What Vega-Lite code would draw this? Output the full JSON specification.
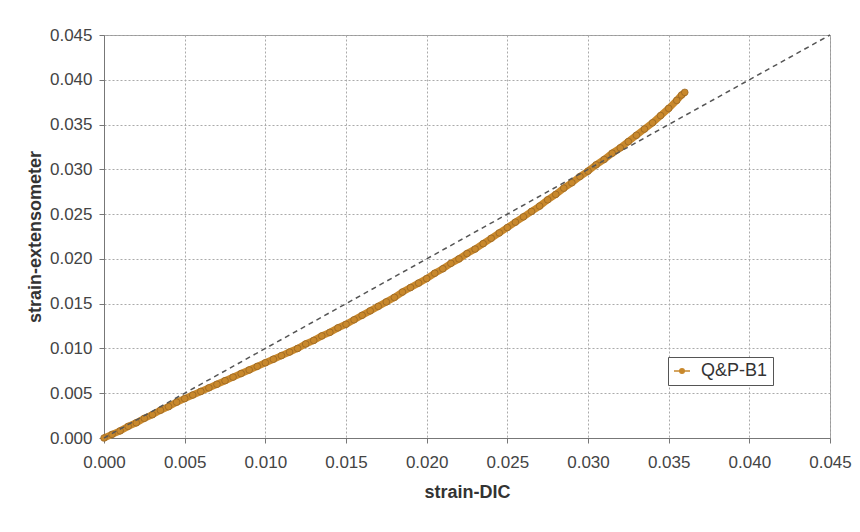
{
  "$schema": "https://vega.github.io/schema/vega-lite/v6.json",
  "width": 726,
  "height": 403,
  "autosize": {"type": "none"},
  "padding": {"left": 104, "top": 35, "right": 30, "bottom": 94},
  "background": "white",
  "data": {"values": [
    {"x": 0.0000, "y": 0.0000, "series": "Q&P-B1"},
    {"x": 0.0005, "y": 0.0004, "series": "Q&P-B1"},
    {"x": 0.0010, "y": 0.0008, "series": "Q&P-B1"},
    {"x": 0.0015, "y": 0.0013, "series": "Q&P-B1"},
    {"x": 0.0020, "y": 0.0017, "series": "Q&P-B1"},
    {"x": 0.0025, "y": 0.0022, "series": "Q&P-B1"},
    {"x": 0.0030, "y": 0.0026, "series": "Q&P-B1"},
    {"x": 0.0035, "y": 0.0031, "series": "Q&P-B1"},
    {"x": 0.0040, "y": 0.0035, "series": "Q&P-B1"},
    {"x": 0.0045, "y": 0.0040, "series": "Q&P-B1"},
    {"x": 0.0050, "y": 0.0044, "series": "Q&P-B1"},
    {"x": 0.0055, "y": 0.0048, "series": "Q&P-B1"},
    {"x": 0.0060, "y": 0.0052, "series": "Q&P-B1"},
    {"x": 0.0065, "y": 0.0056, "series": "Q&P-B1"},
    {"x": 0.0070, "y": 0.0060, "series": "Q&P-B1"},
    {"x": 0.0075, "y": 0.0064, "series": "Q&P-B1"},
    {"x": 0.0080, "y": 0.0068, "series": "Q&P-B1"},
    {"x": 0.0085, "y": 0.0072, "series": "Q&P-B1"},
    {"x": 0.0090, "y": 0.0076, "series": "Q&P-B1"},
    {"x": 0.0095, "y": 0.0080, "series": "Q&P-B1"},
    {"x": 0.0100, "y": 0.0084, "series": "Q&P-B1"},
    {"x": 0.0105, "y": 0.0088, "series": "Q&P-B1"},
    {"x": 0.0110, "y": 0.0092, "series": "Q&P-B1"},
    {"x": 0.0115, "y": 0.0096, "series": "Q&P-B1"},
    {"x": 0.0120, "y": 0.0100, "series": "Q&P-B1"},
    {"x": 0.0125, "y": 0.0105, "series": "Q&P-B1"},
    {"x": 0.0130, "y": 0.0109, "series": "Q&P-B1"},
    {"x": 0.0135, "y": 0.0114, "series": "Q&P-B1"},
    {"x": 0.0140, "y": 0.0118, "series": "Q&P-B1"},
    {"x": 0.0145, "y": 0.0123, "series": "Q&P-B1"},
    {"x": 0.0150, "y": 0.0127, "series": "Q&P-B1"},
    {"x": 0.0155, "y": 0.0132, "series": "Q&P-B1"},
    {"x": 0.0160, "y": 0.0137, "series": "Q&P-B1"},
    {"x": 0.0165, "y": 0.0142, "series": "Q&P-B1"},
    {"x": 0.0170, "y": 0.0147, "series": "Q&P-B1"},
    {"x": 0.0175, "y": 0.0152, "series": "Q&P-B1"},
    {"x": 0.0180, "y": 0.0157, "series": "Q&P-B1"},
    {"x": 0.0185, "y": 0.0163, "series": "Q&P-B1"},
    {"x": 0.0190, "y": 0.0168, "series": "Q&P-B1"},
    {"x": 0.0195, "y": 0.0173, "series": "Q&P-B1"},
    {"x": 0.0200, "y": 0.0178, "series": "Q&P-B1"},
    {"x": 0.0205, "y": 0.0184, "series": "Q&P-B1"},
    {"x": 0.0210, "y": 0.0189, "series": "Q&P-B1"},
    {"x": 0.0215, "y": 0.0195, "series": "Q&P-B1"},
    {"x": 0.0220, "y": 0.0200, "series": "Q&P-B1"},
    {"x": 0.0225, "y": 0.0206, "series": "Q&P-B1"},
    {"x": 0.0230, "y": 0.0211, "series": "Q&P-B1"},
    {"x": 0.0235, "y": 0.0217, "series": "Q&P-B1"},
    {"x": 0.0240, "y": 0.0223, "series": "Q&P-B1"},
    {"x": 0.0245, "y": 0.0229, "series": "Q&P-B1"},
    {"x": 0.0250, "y": 0.0235, "series": "Q&P-B1"},
    {"x": 0.0255, "y": 0.0241, "series": "Q&P-B1"},
    {"x": 0.0260, "y": 0.0247, "series": "Q&P-B1"},
    {"x": 0.0265, "y": 0.0253, "series": "Q&P-B1"},
    {"x": 0.0270, "y": 0.0259, "series": "Q&P-B1"},
    {"x": 0.0275, "y": 0.0266, "series": "Q&P-B1"},
    {"x": 0.0280, "y": 0.0272, "series": "Q&P-B1"},
    {"x": 0.0285, "y": 0.0279, "series": "Q&P-B1"},
    {"x": 0.0290, "y": 0.0285, "series": "Q&P-B1"},
    {"x": 0.0295, "y": 0.0292, "series": "Q&P-B1"},
    {"x": 0.0300, "y": 0.0298, "series": "Q&P-B1"},
    {"x": 0.0305, "y": 0.0305, "series": "Q&P-B1"},
    {"x": 0.0310, "y": 0.0311, "series": "Q&P-B1"},
    {"x": 0.0315, "y": 0.0318, "series": "Q&P-B1"},
    {"x": 0.0320, "y": 0.0324, "series": "Q&P-B1"},
    {"x": 0.0325, "y": 0.0331, "series": "Q&P-B1"},
    {"x": 0.0330, "y": 0.0338, "series": "Q&P-B1"},
    {"x": 0.0335, "y": 0.0345, "series": "Q&P-B1"},
    {"x": 0.0340, "y": 0.0352, "series": "Q&P-B1"},
    {"x": 0.0345, "y": 0.0360, "series": "Q&P-B1"},
    {"x": 0.0350, "y": 0.0368, "series": "Q&P-B1"},
    {"x": 0.0355, "y": 0.0377, "series": "Q&P-B1"},
    {"x": 0.0358, "y": 0.0383, "series": "Q&P-B1"},
    {"x": 0.0360, "y": 0.0386, "series": "Q&P-B1"}
  ]},
  "layer": [
    {
      "mark": {"type": "line", "strokeWidth": 7, "color": "#C8882C"},
      "encoding": {
        "x": {"field": "x", "type": "quantitative", "title": "strain-DIC",
              "scale": {"domain": [0, 0.045], "nice": false, "zero": false},
              "axis": {"values": [0, 0.005, 0.01, 0.015, 0.02, 0.025, 0.03, 0.035, 0.04, 0.045], "format": ".3f"}},
        "y": {"field": "y", "type": "quantitative", "title": "strain-extensometer",
              "scale": {"domain": [0, 0.045], "nice": false, "zero": false},
              "axis": {"values": [0, 0.005, 0.01, 0.015, 0.02, 0.025, 0.03, 0.035, 0.04, 0.045], "format": ".3f"}},
        "color": {"field": "series", "type": "nominal",
                  "scale": {"domain": ["Q&P-B1"], "range": ["#C8882C"]},
                  "legend": {"title": null, "orient": "none", "legendX": 564, "legendY": 322,
                             "strokeColor": "#555", "fillColor": "white", "padding": 5,
                             "symbolType": "M-1.6,0L1.6,0M-0.45,0A0.45,0.45,0,1,0,0.45,0A0.45,0.45,0,1,0,-0.45,0",
                             "symbolSize": 100, "symbolStrokeWidth": 1.5,
                             "symbolFillColor": "#C8882C", "symbolStrokeColor": "#A87030",
                             "labelFont": "Liberation Sans", "labelFontSize": 18, "labelColor": "#333",
                             "labelOffset": 10}}
      }
    },
    {
      "mark": {"type": "point", "shape": "circle", "filled": true, "size": 45,
               "stroke": "#8A5A20", "strokeWidth": 0.6, "opacity": 1},
      "encoding": {
        "x": {"field": "x", "type": "quantitative"},
        "y": {"field": "y", "type": "quantitative"},
        "color": {"field": "series", "type": "nominal"}
      }
    },
    {
      "data": {"values": [{"x": 0, "y": 0}, {"x": 0.045, "y": 0.045}]},
      "mark": {"type": "line", "strokeDash": [5, 4], "strokeWidth": 1.5, "color": "#555"},
      "encoding": {
        "x": {"field": "x", "type": "quantitative"},
        "y": {"field": "y", "type": "quantitative"}
      }
    }
  ],
  "config": {
    "view": {"stroke": "#999", "strokeWidth": 1},
    "axis": {
      "labelFont": "Liberation Sans", "labelFontSize": 17, "labelColor": "#444", "labelFlush": false,
      "titleFont": "Liberation Sans", "titleFontSize": 18, "titleFontWeight": "bold", "titleColor": "#333",
      "domainColor": "#777", "tickColor": "#777", "tickSize": 5,
      "gridColor": "#aaa", "gridDash": [2, 2], "gridWidth": 1, "grid": true
    },
    "axisX": {"labelPadding": 11, "titlePadding": 13},
    "axisY": {"labelPadding": 7, "titlePadding": 5}
  }
}
